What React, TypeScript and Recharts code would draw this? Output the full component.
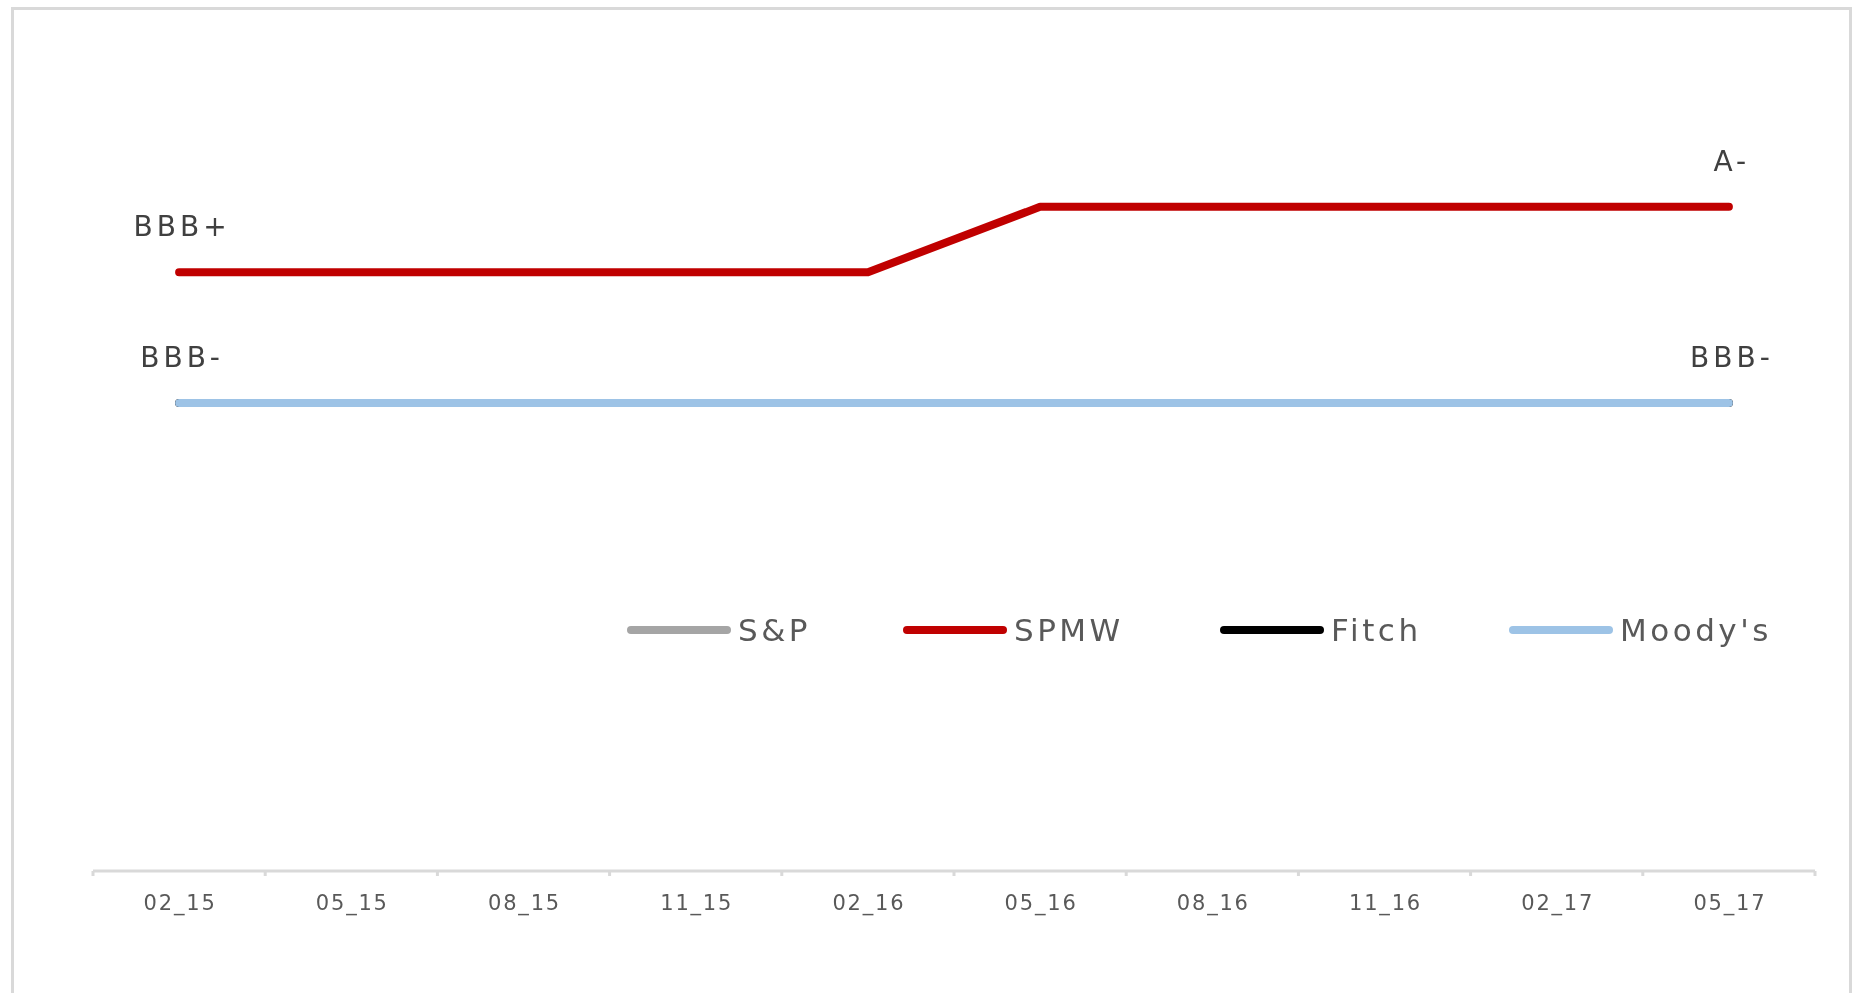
import { LineChart, Line, XAxis, YAxis, Legend, LabelList } from "recharts";

// rating ladder, position in the list is the plotted value
const ladder = ["D", "C", "CC", "CCC-", "CCC", "CCC+", "B-", "B", "B+", "BB-", "BB", "BB+", "BBB-", "BBB", "BBB+", "A-", "A", "A+", "AA-", "AA", "AA+", "AAA"];

const months = ["02_15", "05_15", "08_15", "11_15", "02_16", "05_16", "08_16", "11_16", "02_17", "05_17"];
const spRatings = ["BBB-", "BBB-", "BBB-", "BBB-", "BBB-", "BBB-", "BBB-", "BBB-", "BBB-", "BBB-"];
const spmwRatings = ["BBB+", "BBB+", "BBB+", "BBB+", "BBB+", "A-", "A-", "A-", "A-", "A-"];
const fitchRatings = ["BBB-", "BBB-", "BBB-", "BBB-", "BBB-", "BBB-", "BBB-", "BBB-", "BBB-", "BBB-"];
const moodysRatings = ["BBB-", "BBB-", "BBB-", "BBB-", "BBB-", "BBB-", "BBB-", "BBB-", "BBB-", "BBB-"];

const series = [
  { key: "sp", name: "S&P", color: "#A5A5A5", ratings: spRatings, labels: false },
  { key: "spmw", name: "SPMW", color: "#C00000", ratings: spmwRatings, labels: true },
  { key: "fitch", name: "Fitch", color: "#000000", ratings: fitchRatings, labels: false },
  { key: "moodys", name: "Moody's", color: "#9DC3E6", ratings: moodysRatings, labels: true },
];

const data = months.map((m, i) => {
  const row: any = { month: m };
  series.forEach((s) => {
    row[s.key] = ladder.indexOf(s.ratings[i]);
  });
  return row;
});

const W = 1838;
const H = 977;
const margin = { top: 81, right: 31, bottom: 74, left: 85 };
const halfBand = (W - margin.left - margin.right) / months.length / 2;
const legendSlots = [276, 317, 289, 300];
const FONT = "'DejaVu Sans', sans-serif";

const EndLabel = (props: any) => {
  const { x, y, index, value } = props;
  if (index !== 0 && index !== months.length - 1) return null;
  return (
    <text x={x + 3} y={y - 36} textAnchor="middle" fontFamily={FONT} fontSize={28} letterSpacing={4} fill="#404040">
      {ladder[value]}
    </text>
  );
};

// label under each category, plus Excel style tick marks between categories
const MonthTick = (props: any) => {
  const { x, y, payload, index } = props;
  const last = index === months.length - 1;
  return (
    <g>
      <line x1={x - halfBand} y1={y} x2={x - halfBand} y2={y + 5} stroke="#d9d9d9" strokeWidth={3} />
      {last && <line x1={x + halfBand} y1={y} x2={x + halfBand} y2={y + 5} stroke="#d9d9d9" strokeWidth={3} />}
      <text x={x + 1} y={y + 39} textAnchor="middle" fontFamily={FONT} fontSize={21} letterSpacing={1.8} fill="#595959">
        {payload.value}
      </text>
    </g>
  );
};

const RatingLegend = () => (
  <div style={{ display: "flex", alignItems: "center", height: 42, fontFamily: FONT }}>
    {series.map((s, i) => (
      <div key={s.key} style={{ display: "flex", alignItems: "center", width: legendSlots[i] }}>
        <svg width={106} height={12} style={{ marginRight: 6 }}>
          <line x1={5} y1={6} x2={101} y2={6} stroke={s.color} strokeWidth={8} strokeLinecap="round" />
        </svg>
        <span style={{ fontSize: 31, letterSpacing: 3.5, color: "#595959", whiteSpace: "nowrap" }}>{s.name}</span>
      </div>
    ))}
  </div>
);

export default function App() {
  return (
    <div>
      <div
        style={{
          position: "fixed",
          left: 11,
          top: 7,
          width: 1841,
          height: 990,
          boxSizing: "border-box",
          border: "3px solid #d9d9d9",
          borderBottom: "none",
        }}
      />
      <div style={{ position: "fixed", left: 8, top: 8 }}>
        <LineChart width={W} height={H} data={data} margin={margin}>
          <XAxis
            dataKey="month"
            height={40}
            padding={{ left: halfBand, right: halfBand }}
            axisLine={{ stroke: "#d9d9d9", strokeWidth: 3 }}
            tickLine={false}
            tickSize={0}
            tickMargin={0}
            interval={0}
            tick={<MonthTick />}
          />
          <YAxis hide domain={[4.85, 16.8]} allowDataOverflow />
          <Legend
            layout="horizontal"
            verticalAlign="middle"
            align="center"
            content={<RatingLegend />}
            wrapperStyle={{ left: 618, top: 601, width: "auto" }}
          />
          {series.map((s) => (
            <Line
              key={s.key}
              dataKey={s.key}
              name={s.name}
              stroke={s.color}
              strokeWidth={8}
              strokeLinecap="round"
              strokeLinejoin="round"
              dot={false}
              activeDot={false}
              isAnimationActive={false}
            >
              {s.labels && <LabelList dataKey={s.key} content={<EndLabel />} />}
            </Line>
          ))}
        </LineChart>
      </div>
    </div>
  );
}
